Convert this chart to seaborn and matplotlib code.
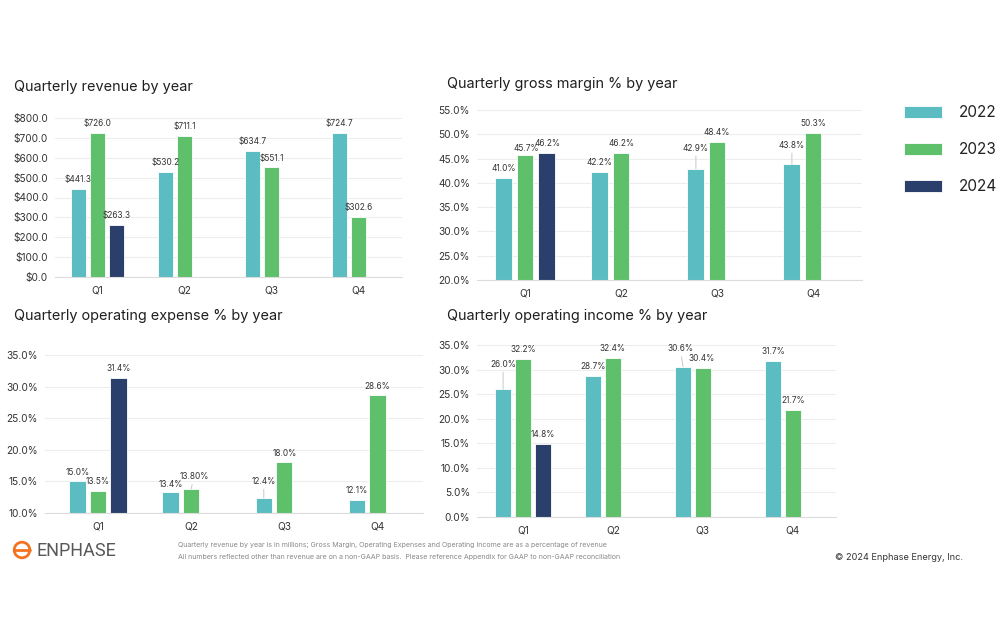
import numpy as np
import pandas as pd
import matplotlib
matplotlib.use("Agg")
import matplotlib.pyplot as plt
from matplotlib.patches import Circle
import seaborn as sns

# Data

quarters = ["Q1", "Q2", "Q3", "Q4"]
years = ["2022", "2023", "2024"]

revenue_2022 = [441.3, 530.2, 634.7, 724.7]
revenue_2023 = [726.0, 711.1, 551.1, 302.6]
revenue_2024 = [263.3, np.nan, np.nan, np.nan]

gross_2022 = [41.0, 42.2, 42.9, 43.8]
gross_2023 = [45.7, 46.2, 48.4, 50.3]
gross_2024 = [46.2, np.nan, np.nan, np.nan]

opex_2022 = [15.0, 13.4, 12.4, 12.1]
opex_2023 = [13.5, 13.8, 18.0, 28.6]
opex_2024 = [31.4, np.nan, np.nan, np.nan]

opinc_2022 = [26.0, 28.7, 30.6, 31.7]
opinc_2023 = [32.2, 32.4, 30.4, 21.7]
opinc_2024 = [14.8, np.nan, np.nan, np.nan]

# label text that is not a plain format of the bar value
label_override = {("opex", "Q2", "2023"): "13.80%"}

# label nudges (points); lifted labels get a leader line
label_shift = {
    ("gross", "Q3", "2022"): (0, 8),
    ("gross", "Q4", "2022"): (0, 7),
    ("gross", "Q1", "2023"): (1, -2),
    ("gross", "Q1", "2024"): (1, 0),
    ("opex", "Q3", "2022"): (0, 5),
    ("opex", "Q2", "2022"): (0, -2),
    ("opex", "Q2", "2023"): (2, 2),
    ("opinc", "Q1", "2022"): (0, 11),
    ("opinc", "Q3", "2022"): (-2, 6),
    ("opinc", "Q3", "2023"): (-1, 0),
}

palette = {"2022": "#5bbcc2", "2023": "#5fc06b", "2024": "#2a3f6c"}

sns.set_theme(style="white")
plt.rcParams["font.family"] = ["Inter", "DejaVu Sans"]

fig = plt.figure(figsize=(10, 6.4), dpi=100)


def px_axes(x0, x1, ytop, ybot):
    return fig.add_axes([x0 / 1000, (640 - ybot) / 640, (x1 - x0) / 1000, (ybot - ytop) / 640])


def draw_panel(ax, key, v22, v23, v24, money, ylim, step, xlim):
    df = pd.DataFrame({
        "quarter": quarters * 3,
        "year": np.repeat(years, 4),
        "value": v22 + v23 + v24,
    }).dropna()

    sns.barplot(
        data=df, x="quarter", y="value", hue="year",
        order=quarters, hue_order=years, palette=palette,
        width=0.66, gap=0.2, saturation=1, errorbar=None,
        edgecolor="white", linewidth=0.6, ax=ax
    )

    handles, labels = ax.get_legend_handles_labels()
    if ax.get_legend() is not None:
        ax.get_legend().remove()

    ax.set_ylim(*ylim)
    ax.set_xlim(*xlim)
    ax.set_yticks(np.arange(ylim[0], ylim[1] + 0.01, step))
    if money:
        ax.yaxis.set_major_formatter(plt.FuncFormatter(lambda v, p: f"${v:.1f}"))
    else:
        ax.yaxis.set_major_formatter(plt.FuncFormatter(lambda v, p: f"{v:.1f}%"))

    ax.grid(axis="y", color="#ededed", linewidth=0.8)
    ax.set_axisbelow(True)
    for s in ["top", "right", "left"]:
        ax.spines[s].set_visible(False)
    ax.spines["bottom"].set_color("#dcdcdc")
    ax.spines["bottom"].set_linewidth(0.8)
    ax.tick_params(axis="y", length=0, pad=5, labelsize=7.3, labelcolor="#333333")
    ax.tick_params(axis="x", length=0, pad=6, labelsize=7.3, labelcolor="#333333")
    ax.set_xlabel("")
    ax.set_ylabel("")

    # value labels
    for year, cont in zip(years, ax.containers):
        for bar in cont:
            h = bar.get_height()
            if np.isnan(h):
                continue
            xc = bar.get_x() + bar.get_width() / 2
            q = quarters[int(round(xc))]
            text = label_override.get((key, q, year),
                                      f"${h:.1f}" if money else f"{h:.1f}%")
            dx, dy = label_shift.get((key, q, year), (0, 0))
            kw = {}
            if dy > 1:
                kw["arrowprops"] = dict(arrowstyle="-", color="#c8c8c8", lw=0.7,
                                        shrinkA=0, shrinkB=0)
            ax.annotate(text, xy=(xc, h), xytext=(dx, 3.5 + dy),
                        textcoords="offset points", ha="center", va="bottom",
                        fontsize=6.0, color="#333333", annotation_clip=False, **kw)
    return handles, labels


ax1 = px_axes(55, 402, 118, 277)
handles, labels = draw_panel(ax1, "rev", revenue_2022, revenue_2023, revenue_2024,
                             True, (0, 800), 100, (-0.49, 3.5))

ax2 = px_axes(477, 862, 110, 280)
draw_panel(ax2, "gross", gross_2022, gross_2023, gross_2024,
           False, (20, 55), 5, (-0.5, 3.51))

ax3 = px_axes(45, 423, 355, 513)
draw_panel(ax3, "opex", opex_2022, opex_2023, opex_2024,
           False, (10, 35), 5, (-0.57, 3.49))

ax4 = px_axes(477, 836, 345, 517)
draw_panel(ax4, "opinc", opinc_2022, opinc_2023, opinc_2024,
           False, (0, 35), 5, (-0.51, 3.48))

# Titles
title_kw = dict(fontsize=10.4, color="#1f1f1f", va="center", ha="left")
fig.text(14 / 1000, 1 - 87 / 640, "Quarterly revenue by year", **title_kw)
fig.text(447 / 1000, 1 - 84 / 640, "Quarterly gross margin % by year", **title_kw)
fig.text(14 / 1000, 1 - 316 / 640, "Quarterly operating expense % by year", **title_kw)
fig.text(447 / 1000, 1 - 316 / 640, "Quarterly operating income % by year", **title_kw)

# Legend
fig.legend(handles, labels, loc="upper left", bbox_to_anchor=(0.904, 1 - 105 / 640),
           frameon=False, fontsize=11, handlelength=2.5, handleheight=0.8,
           handletextpad=1.1, labelspacing=1.45, borderpad=0, borderaxespad=0,
           labelcolor="#222222")

# Footer
logo = fig.add_axes([12 / 1000, (640 - 560) / 640, 20 / 1000, 20 / 640])
logo.set_xlim(-1, 1)
logo.set_ylim(-1, 1)
logo.set_aspect("equal")
logo.axis("off")
logo.add_patch(Circle((0, 0), 0.78, fill=False, edgecolor="#f37321", linewidth=2.0))
logo.plot([-0.78, 0.78], [0, 0], color="#f37321", linewidth=2.0)

fig.text(37 / 1000, 1 - 551 / 640, "ENPHASE", fontsize=13, color="#585858",
         va="center", ha="left", fontfamily=["Roboto", "DejaVu Sans"])

fig.text(178 / 1000, 1 - 545 / 640,
         "Quarterly revenue by year is in millions; Gross Margin, Operating Expenses and "
         "Operating Income are as a percentage of revenue",
         fontsize=5.1, color="#8a8a8a", va="center", ha="left")
fig.text(178 / 1000, 1 - 557 / 640,
         "All numbers reflected other than revenue are on a non-GAAP basis.  Please reference "
         "Appendix for GAAP to non-GAAP reconciliation",
         fontsize=5.1, color="#8a8a8a", va="center", ha="left")
fig.text(835 / 1000, 1 - 557 / 640, "\u00a9 2024 Enphase Energy, Inc.",
         fontsize=6.6, color="#333333", va="center", ha="left")

fig.savefig("out.png", dpi=100, facecolor="white")
